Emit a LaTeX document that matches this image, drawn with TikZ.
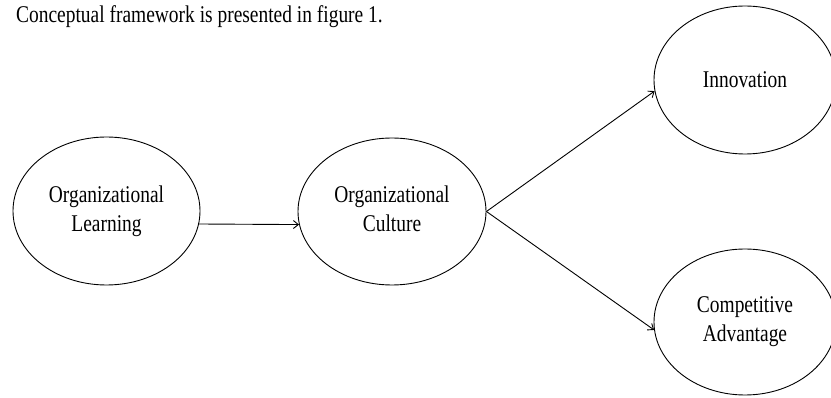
\documentclass[tikz,border=0pt]{standalone}
\usepackage{fontspec}
\setmainfont{Liberation Serif}[FakeStretch=0.81]
\usetikzlibrary{shapes.geometric,arrows.meta}
\begin{document}
\begin{tikzpicture}[x=1pt,y=-1pt,
  oval/.style={ellipse,draw,line width=0.9pt,inner sep=0pt,align=center,
    font=\fontsize{24}{29}\selectfont},
  link/.style={line width=0.9pt,-{Straight Barb[length=5pt,width=8pt]}}]
\useasboundingbox (0,0) rectangle (831,398);
\node[anchor=base west,font=\fontsize{24}{29}\selectfont,inner sep=0pt] (cap) at (16,23) {Conceptual framework is presented in figure 1.};
\node[oval,minimum width=187pt,minimum height=148pt] (ol) at (106.5,211) {Organizational\\Learning};
\node[oval,minimum width=188pt,minimum height=147pt,text depth=5pt] (oc) at (392,211.5) {Organizational\\Culture};
\node[oval,minimum width=182pt,minimum height=148pt] (in) at (745,80) {Innovation};
\node[oval,minimum width=182pt,minimum height=146pt] (ca) at (745,322) {Competitive\\Advantage};
\draw[link] (ol.-8) -- (oc.188);
\draw[link] (oc.east) -- (in.187);
\draw[link] (oc.east) -- (ca.185);
\end{tikzpicture}
\end{document}
